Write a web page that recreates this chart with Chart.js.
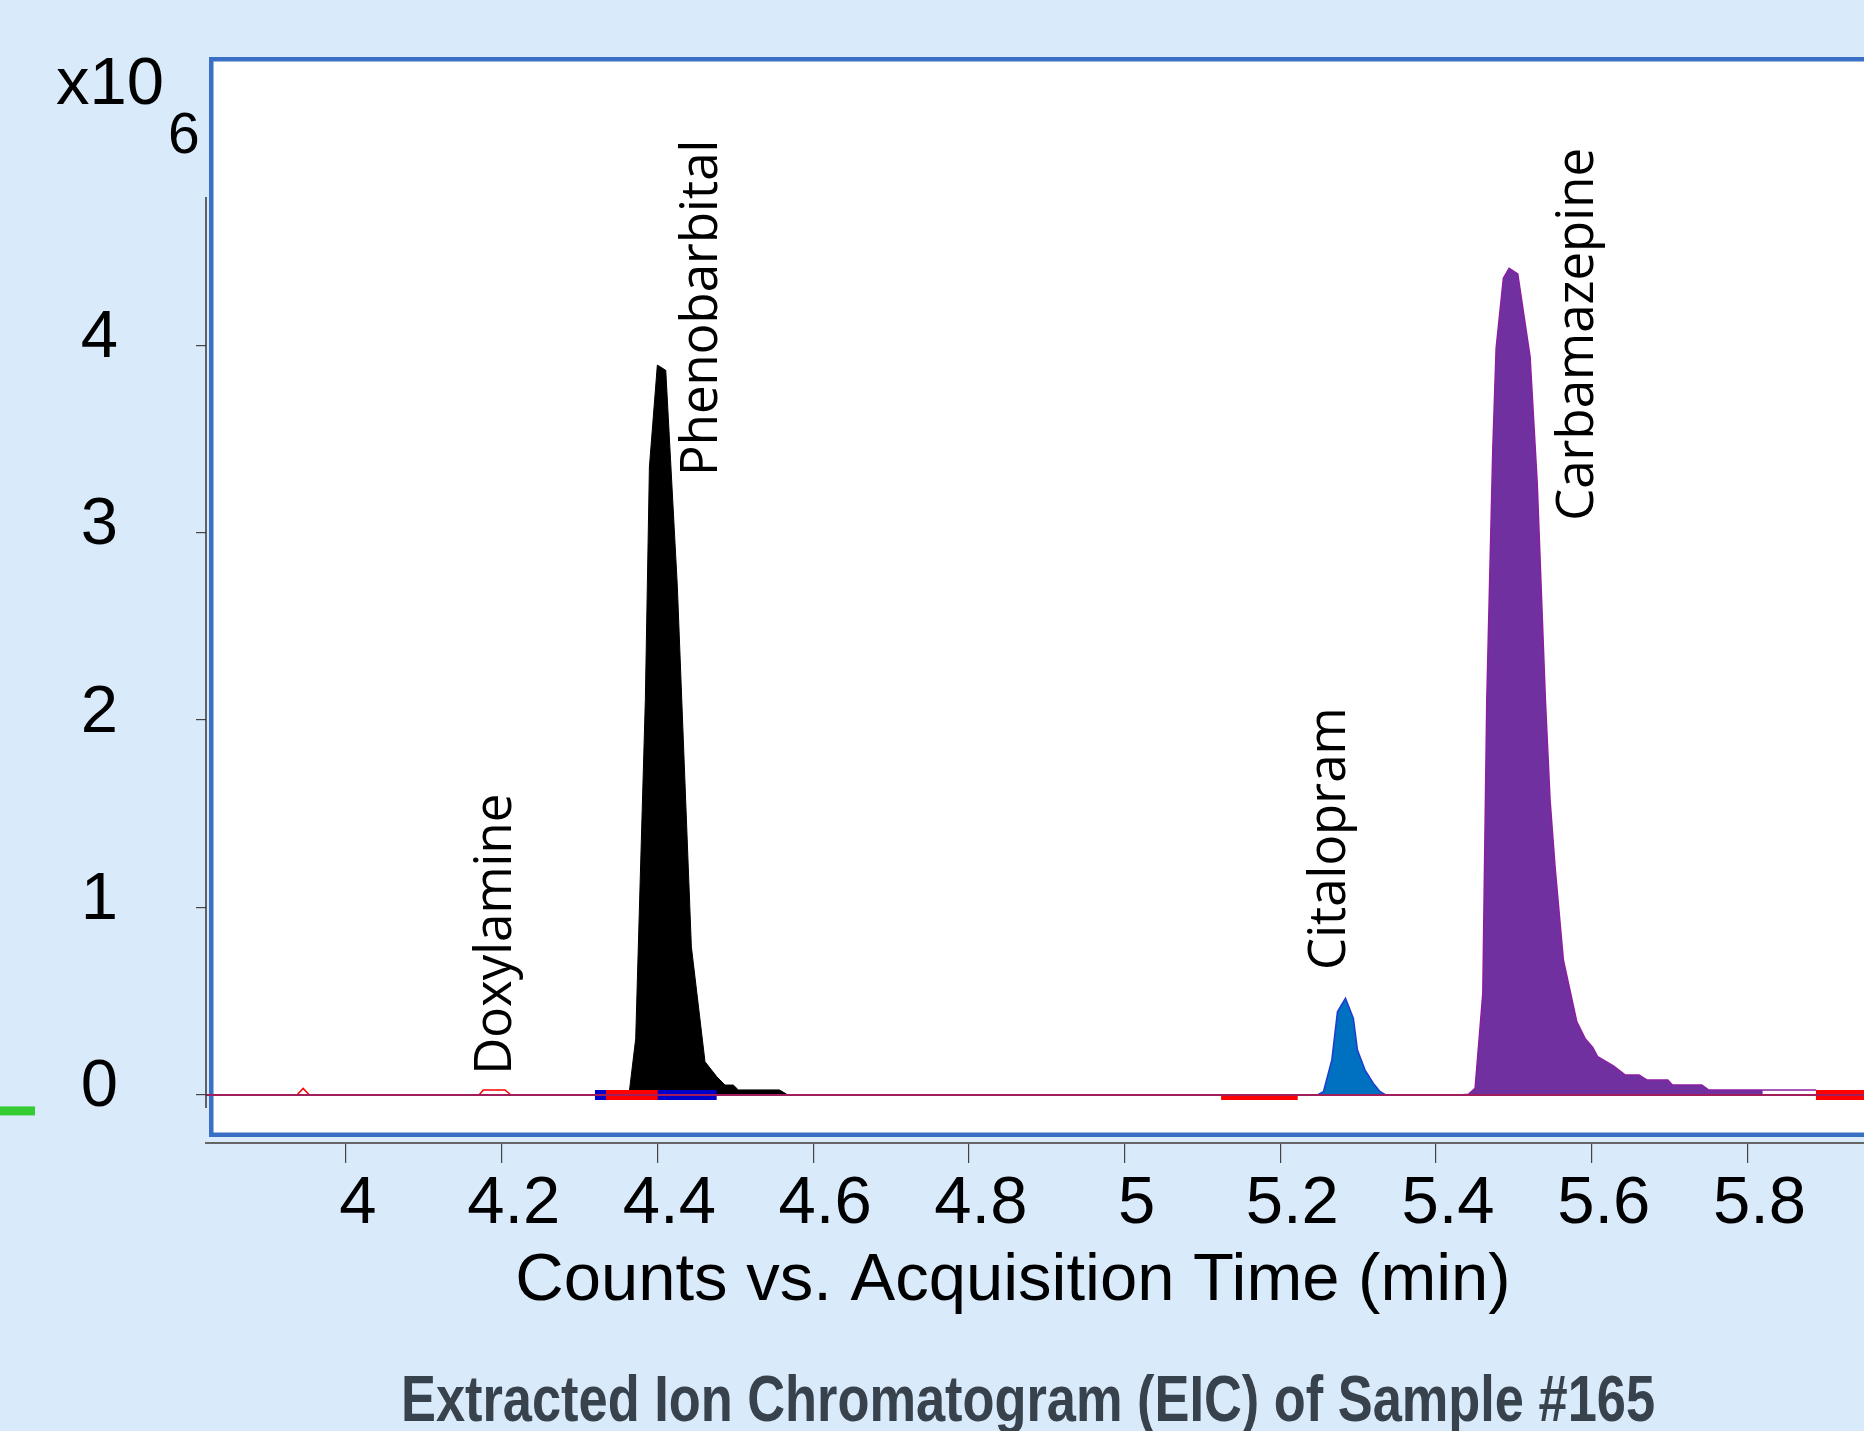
<!DOCTYPE html>
<html>
<head>
<meta charset="utf-8">
<title>EIC of Sample #165</title>
<script src="https://cdn.jsdelivr.net/npm/chart.js@4.4.1/dist/chart.umd.min.js"></script>
<style>
  html, body { margin: 0; padding: 0; background: #d9eafb; }
  #wrap { width: 1864px; height: 1431px; }
</style>
</head>
<body>
<div id="wrap"><canvas id="eic" width="1864" height="1431"></canvas></div>
<script>
// acquisition time (min) / counts (x10^6)
const xTicks = [4, 4.2, 4.4, 4.6, 4.8, 5, 5.2, 5.4, 5.6, 5.8];
const xTickLabels = ['4', '4.2', '4.4', '4.6', '4.8', '5', '5.2', '5.4', '5.6', '5.8'];
const yTicks = [0, 1, 2, 3, 4];
const yTickLabels = ['0', '1', '2', '3', '4'];

const baselineTime = [3.82, 5.95];
const baselineCounts = [0, 0];

const phenoTime = [4.352, 4.3635, 4.3721, 4.3845, 4.3897, 4.3999, 4.4107, 4.4256, 4.4436, 4.4611, 4.4761, 4.4868, 4.4975, 4.5039, 4.5566, 4.5661];
const phenoCounts = [0, 0.003, 0.30, 2.11, 3.35, 3.894, 3.866, 2.712, 0.791, 0.178, 0.098, 0.053, 0.053, 0.027, 0.027, 0.004];

const citTime = [5.2477, 5.2554, 5.2662, 5.2734, 5.2837, 5.2939, 5.2991, 5.3089, 5.3196, 5.3282, 5.3355];
const citCounts = [0, 0.018, 0.187, 0.444, 0.516, 0.409, 0.240, 0.133, 0.062, 0.018, 0];

const carbaTime = [5.43, 5.4416, 5.4502, 5.4601, 5.4652, 5.4729, 5.4772, 5.4865, 5.4939, 5.5050, 5.5208, 5.530, 5.5405, 5.5465, 5.5529, 5.5636, 5.5808, 5.5914, 5.6013, 5.6077, 5.6278, 5.6428, 5.6608, 5.6707, 5.6977, 5.7036, 5.7414, 5.7499, 5.8197];
const carbaCounts = [0, 0.004, 0.036, 0.543, 2.107, 3.441, 3.983, 4.357, 4.410, 4.380, 3.939, 3.265, 2.107, 1.574, 1.218, 0.720, 0.391, 0.302, 0.254, 0.204, 0.155, 0.107, 0.107, 0.080, 0.080, 0.053, 0.053, 0.027, 0.027];

const carbaTailTime = [5.8197, 5.8883];
const carbaTailCounts = [0.027, 0.027];

const doxTime = [4.1708, 4.1764, 4.2042, 4.212];
const doxCounts = [0, 0.027, 0.027, 0];
const blipTime = [3.937, 3.945, 3.953];
const blipCounts = [0, 0.035, 0];

// integration markers on the baseline
const blueMarkStart = [4.3198];
const blueMarkEnd = [4.4761];
const redMarkStart = [4.334, 5.124, 5.888];
const redMarkEnd = [4.4004, 5.2224, 5.96];
const redMarkLevel = [0, -0.013, 0];

// compound labels: name, anchor time, anchor counts
const peakNames = ['Doxylamine', 'Phenobarbital', 'Citalopram', 'Carbamazepine'];
const peakLabelTime = [4.2119, 4.4762, 5.2832, 5.6018];
const peakLabelCounts = [0.108, 3.302, 0.667, 3.063];

const chartTitle = 'Extracted Ion Chromatogram (EIC) of Sample #165';
const xTitle = 'Counts vs. Acquisition Time (min)';

function toPoints(xs, ys) {
    return xs.map((x, i) => ({ x: x, y: ys[i] }));
}

const datasets = [
    { label: 'baseline', data: toPoints(baselineTime, baselineCounts), borderColor: '#a11d5c', borderWidth: 2, fill: false, order: 0 },
    { label: 'Phenobarbital', data: toPoints(phenoTime, phenoCounts), borderColor: '#000000', backgroundColor: '#000000', borderWidth: 1, fill: 'origin', order: 3 },
    { label: 'Citalopram', data: toPoints(citTime, citCounts), borderColor: '#1e3ccf', backgroundColor: '#0070c0', borderWidth: 1.5, fill: 'origin', order: 4 },
    { label: 'Carbamazepine', data: toPoints(carbaTime, carbaCounts), borderColor: '#8a1fa0', backgroundColor: '#7030a0', borderWidth: 1.5, fill: 'origin', order: 5 },
    { label: 'Carbamazepine tail', data: toPoints(carbaTailTime, carbaTailCounts), borderColor: '#8a1fa0', backgroundColor: '#ffffff', borderWidth: 1.5, fill: 'origin', order: 6 },
    { label: 'Doxylamine', data: toPoints(doxTime, doxCounts), borderColor: '#ff0000', backgroundColor: '#ffffff', borderWidth: 1.5, fill: 'origin', order: 7 },
    { label: 'blip', data: toPoints(blipTime, blipCounts), borderColor: '#ff0000', backgroundColor: '#ffffff', borderWidth: 1.5, fill: 'origin', order: 7 }
];

blueMarkStart.forEach((s, i) => {
    datasets.push({ label: 'mark', data: toPoints([s, blueMarkEnd[i]], [0, 0]), borderColor: '#0000cc', borderWidth: 10, borderCapStyle: 'butt', fill: false, order: 2 });
});
redMarkStart.forEach((s, i) => {
    const w = redMarkLevel[i] < 0 ? 5 : 10;
    datasets.push({ label: 'mark', data: toPoints([s, redMarkEnd[i]], [redMarkLevel[i], redMarkLevel[i]]), borderColor: '#ff0000', borderWidth: w, borderCapStyle: 'butt', fill: false, order: 1 });
});

const decorations = {
    id: 'decorations',
    beforeDraw(chart) {
        const { ctx, chartArea: a } = chart;
        ctx.save();
        ctx.fillStyle = '#d9eafb';
        ctx.fillRect(0, 0, chart.width, chart.height);
        // white plot frame with blue border
        ctx.fillStyle = '#ffffff';
        ctx.fillRect(a.left + 3, a.top, a.right - a.left, a.bottom - a.top - 6);
        ctx.strokeStyle = '#3a6fc6';
        ctx.lineWidth = 4.5;
        ctx.strokeRect(a.left + 5.25, a.top + 2.25, a.right - a.left + 10, a.bottom - a.top - 10.5);
        ctx.restore();
    },
    afterDraw(chart) {
        const { ctx, chartArea: a, scales: { x, y } } = chart;
        ctx.save();
        // y axis line
        ctx.strokeStyle = '#333333';
        ctx.lineWidth = 1.5;
        ctx.beginPath();
        ctx.moveTo(a.left, y.getPixelForValue(4.79));
        ctx.lineTo(a.left, y.getPixelForValue(-0.07));
        ctx.stroke();

        // green marker at the left edge
        ctx.fillStyle = '#33cc33';
        ctx.fillRect(0, y.getPixelForValue(-0.085) - 4.5, 35, 9);

        // x10^6 multiplier
        ctx.fillStyle = '#000000';
        ctx.textAlign = 'left';
        ctx.textBaseline = 'alphabetic';
        ctx.font = "67px 'Liberation Sans', Arial, sans-serif";
        ctx.fillText('x10', 56, 104);
        ctx.font = "57px 'Liberation Sans', Arial, sans-serif";
        ctx.fillText('6', 168, 153);

        // compound labels, rotated
        ctx.font = "51px 'Open Sans', 'DejaVu Sans', sans-serif";
        peakNames.forEach((name, i) => {
            ctx.save();
            ctx.translate(x.getPixelForValue(peakLabelTime[i]), y.getPixelForValue(peakLabelCounts[i]));
            ctx.rotate(-Math.PI / 2);
            ctx.fillText(name, 0, 0);
            ctx.restore();
        });

        // x axis title
        ctx.font = "67px 'Liberation Sans', Arial, sans-serif";
        ctx.textAlign = 'center';
        ctx.fillText(xTitle, 1013, 1300);

        // chart title, condensed bold
        ctx.font = "bold 64px 'Liberation Sans', Arial, sans-serif";
        ctx.fillStyle = '#38424c';
        const tw = ctx.measureText(chartTitle).width;
        ctx.translate(1028, 1421);
        ctx.scale(1254 / tw, 1);
        ctx.fillText(chartTitle, 0, 0);
        ctx.restore();
    }
};

Chart.defaults.font.family = "'Liberation Sans', Arial, sans-serif";

new Chart(document.getElementById('eic'), {
    type: 'line',
    data: { datasets: datasets },
    plugins: [decorations],
    options: {
        responsive: false,
        animation: false,
        layout: { padding: { top: 57, left: 0, right: 0, bottom: 0 } },
        elements: { point: { radius: 0 }, line: { tension: 0 } },
        plugins: { legend: { display: false }, tooltip: { enabled: false }, title: { display: false } },
        scales: {
            x: {
                type: 'linear',
                position: 'bottom',
                min: 3.8202,
                max: 5.9497,
                afterFit: s => { s.height = 288; s.paddingLeft = 0; s.paddingRight = 0; },
                afterBuildTicks: s => { s.ticks = xTicks.map(v => ({ value: v })); },
                grid: { drawOnChartArea: false, drawTicks: true, tickLength: 20, color: '#444444', lineWidth: 1.2 },
                border: { display: true, color: '#666666', width: 2 },
                ticks: {
                    autoSkip: false,
                    maxRotation: 0,
                    padding: 1,
                    labelOffset: 12,
                    color: '#000000',
                    font: { size: 67 },
                    callback: (v, i) => xTickLabels[i]
                }
            },
            y: {
                type: 'linear',
                position: 'left',
                min: -0.2561,
                max: 5.5375,
                afterFit: s => { s.width = 206; s.paddingTop = 0; s.paddingBottom = 0; },
                afterBuildTicks: s => { s.ticks = yTicks.map(v => ({ value: v })); },
                grid: { drawOnChartArea: false, drawTicks: true, tickLength: 10, color: '#444444', lineWidth: 1.2 },
                border: { display: false },
                ticks: {
                    padding: 78,
                    labelOffset: -7,
                    color: '#000000',
                    font: { size: 67 },
                    callback: (v, i) => yTickLabels[i]
                }
            }
        }
    }
});
</script>
</body>
</html>
